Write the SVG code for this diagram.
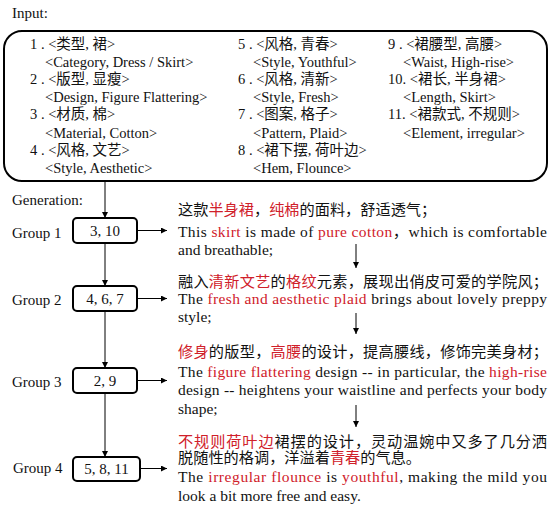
<svg xmlns="http://www.w3.org/2000/svg" width="550" height="506" viewBox="0 0 550 506">
<defs>
<marker id="ah" viewBox="0 0 10 10" refX="10" refY="5" markerWidth="6" markerHeight="6" orient="auto" markerUnits="userSpaceOnUse">
<path d="M0,0 L10,5 L0,10 z" fill="#000"/>
</marker>
<style>
text{font-family:"Liberation Serif","Noto Sans CJK SC",serif;fill:#111}
.in{font-size:14.5px}
.lb{font-size:15px}
.g{font-size:15.5px}
.cn{font-size:15.2px}
.r{fill:#d0202a}
.box{fill:#fff;stroke:#000;stroke-width:2}
.ln{stroke:#000;stroke-width:1;fill:none;marker-end:url(#ah)}
</style>
</defs>
<text class="lb" x="12" y="18">Input:</text>
<g id="input">
<rect class="box" x="4" y="31" width="543" height="150" rx="18"/>
<text class="in" x="30" y="49">1 . &lt;类型, 裙&gt;</text>
<text class="in" x="45" y="67">&lt;Category, Dress / Skirt&gt;</text>
<text class="in" x="30" y="84">2 . &lt;版型, 显瘦&gt;</text>
<text class="in" x="45" y="102">&lt;Design, Figure Flattering&gt;</text>
<text class="in" x="30" y="119">3 . &lt;材质, 棉&gt;</text>
<text class="in" x="45" y="138">&lt;Material, Cotton&gt;</text>
<text class="in" x="30" y="155">4 . &lt;风格, 文艺&gt;</text>
<text class="in" x="45" y="173">&lt;Style, Aesthetic&gt;</text>
<text class="in" x="238" y="49">5 . &lt;风格, 青春&gt;</text>
<text class="in" x="253" y="67">&lt;Style, Youthful&gt;</text>
<text class="in" x="238" y="84">6 . &lt;风格, 清新&gt;</text>
<text class="in" x="253" y="102">&lt;Style, Fresh&gt;</text>
<text class="in" x="238" y="119">7 . &lt;图案, 格子&gt;</text>
<text class="in" x="253" y="138">&lt;Pattern, Plaid&gt;</text>
<text class="in" x="238" y="155">8 . &lt;裙下摆, 荷叶边&gt;</text>
<text class="in" x="253" y="173">&lt;Hem, Flounce&gt;</text>
<text class="in" x="388" y="49">9 . &lt;裙腰型, 高腰&gt;</text>
<text class="in" x="403" y="67">&lt;Waist, High-rise&gt;</text>
<text class="in" x="388" y="84">10. &lt;裙长, 半身裙&gt;</text>
<text class="in" x="403" y="102">&lt;Length, Skirt&gt;</text>
<text class="in" x="388" y="119">11. &lt;裙款式, 不规则&gt;</text>
<text class="in" x="403" y="138">&lt;Element, irregular&gt;</text>
</g>
<text class="lb" x="12" y="205">Generation:</text>
<g id="connectors">
<line class="ln" x1="105" y1="181" x2="105" y2="218"/>
<line class="ln" x1="105" y1="243" x2="105" y2="286"/>
<line class="ln" x1="105" y1="311" x2="105" y2="368"/>
<line class="ln" x1="105" y1="393" x2="105" y2="457"/>
<line class="ln" x1="137" y1="230.5" x2="167" y2="230.5"/>
<line class="ln" x1="137" y1="298.5" x2="167" y2="298.5"/>
<line class="ln" x1="137" y1="380.5" x2="167" y2="380.5"/>
<line class="ln" x1="140" y1="468.5" x2="167" y2="468.5"/>
<line class="ln" x1="356" y1="244" x2="356" y2="268"/>
<line class="ln" x1="356" y1="313" x2="356" y2="334"/>
<line class="ln" x1="356" y1="405" x2="356" y2="427"/>
</g>
<g id="group1">
<text class="lb" x="12" y="238">Group 1</text>
<rect class="box" x="73" y="218" width="64" height="25" rx="4"/>
<text class="lb" x="105" y="236" text-anchor="middle">3, 10</text>
</g>
<g id="group2">
<text class="lb" x="12" y="305">Group 2</text>
<rect class="box" x="73" y="286" width="64" height="25" rx="4"/>
<text class="lb" x="105" y="304" text-anchor="middle">4, 6, 7</text>
</g>
<g id="group3">
<text class="lb" x="12" y="387">Group 3</text>
<rect class="box" x="73" y="368" width="64" height="25" rx="4"/>
<text class="lb" x="105" y="386" text-anchor="middle">2, 9</text>
</g>
<g id="group4">
<text class="lb" x="13" y="473">Group 4</text>
<rect class="box" x="73" y="457" width="67" height="24" rx="4"/>
<text class="lb" x="106.5" y="474" text-anchor="middle">5, 8, 11</text>
</g>
<g id="text1">
<text class="cn" x="178" y="215">这款<tspan class="r">半身裙</tspan>，<tspan class="r">纯棉</tspan>的面料，舒适透气；</text>
<text class="g" x="178" y="237" textLength="369" lengthAdjust="spacing">This <tspan class="r">skirt</tspan> is made of <tspan class="r">pure cotton</tspan>，which is comfortable</text>
<text class="g" x="178" y="255">and breathable;</text>
</g>
<g id="text2">
<text class="cn" x="178" y="287" textLength="370" lengthAdjust="spacing">融入<tspan class="r">清新文艺</tspan>的<tspan class="r">格纹</tspan>元素，展现出俏皮可爱的学院风；</text>
<text class="g" x="178" y="304" textLength="369" lengthAdjust="spacing">The <tspan class="r">fresh and aesthetic plaid</tspan> brings about lovely preppy</text>
<text class="g" x="178" y="322">style;</text>
</g>
<g id="text3">
<text class="cn" x="178" y="357" textLength="370" lengthAdjust="spacing"><tspan class="r">修身</tspan>的版型，<tspan class="r">高腰</tspan>的设计，提高腰线，修饰完美身材；</text>
<text class="g" x="178" y="377" textLength="369" lengthAdjust="spacing">The <tspan class="r">figure flattering</tspan> design -- in particular, the <tspan class="r">high-rise</tspan></text>
<text class="g" x="178" y="395" textLength="369" lengthAdjust="spacing">design -- heightens your waistline and perfects your body</text>
<text class="g" x="178" y="414">shape;</text>
</g>
<g id="text4">
<text class="cn" x="178" y="447" textLength="369" lengthAdjust="spacing"><tspan class="r">不规则荷叶边</tspan>裙摆的设计，灵动温婉中又多了几分洒</text>
<text class="cn" x="178" y="463">脱随性的格调，洋溢着<tspan class="r">青春</tspan>的气息。</text>
<text class="g" x="178" y="482" textLength="369" lengthAdjust="spacing">The <tspan class="r">irregular flounce</tspan> is <tspan class="r">youthful</tspan>, making the mild you</text>
<text class="g" x="178" y="501">look a bit more free and easy.</text>
</g>
</svg>
